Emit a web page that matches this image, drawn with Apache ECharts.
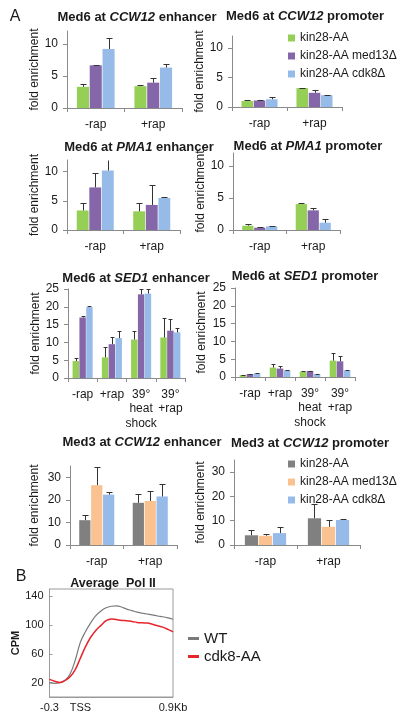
<!DOCTYPE html>
<html><head><meta charset="utf-8">
<script src="https://cdn.jsdelivr.net/npm/echarts@6/dist/echarts.min.js"></script>
<style>html,body{margin:0;padding:0;background:#fff}#c{width:400px;height:721px}</style>
</head><body><div id="c"></div>
<script>
// ---------- data ----------
const rapCats = ['-rap', '+rap'];
const sedCats = ['-rap', '+rap', '39°\nheat\nshock', '39°\n+rap'];
const strainNames = ['kin28-AA', 'kin28-AA med13Δ', 'kin28-AA cdk8Δ'];

// Med6 at CCW12 enhancer  (series order: kin28-AA, med13Δ, cdk8Δ)
const med6Ccw12EnhMean = [[3.3, 3.4], [6.65, 3.95], [9.2, 6.3]];
const med6Ccw12EnhErr  = [[0.45, 0.15], [0.05, 0.75], [1.7, 0.6]];
// Med6 at CCW12 promoter
const med6Ccw12ProMean = [[1.0, 3.2], [1.1, 2.4], [1.3, 2.0]];
const med6Ccw12ProErr  = [[0.1, 0.05], [0.15, 0.45], [0.45, 0.05]];
// Med6 at PMA1 enhancer
const med6Pma1EnhMean = [[3.35, 3.2], [7.3, 4.3], [10.2, 5.5]];
const med6Pma1EnhErr  = [[1.25, 1.4], [2.5, 3.4], [3.0, 0.15]];
// Med6 at PMA1 promoter
const med6Pma1ProMean = [[0.67, 4.04], [0.36, 3.06], [0.57, 1.14]];
const med6Pma1ProErr  = [[0.2, 0.15], [0.1, 0.36], [0.1, 0.62]];
// Med6 at SED1 enhancer
const med6Sed1EnhMean = [[4.75, 5.8, 10.8, 11.4], [17.0, 9.5, 23.5, 13.3], [19.9, 11.2, 23.7, 12.8]];
const med6Sed1EnhErr  = [[0.95, 2.8, 2.3, 5.4], [0.5, 2.0, 1.5, 3.4], [0.2, 1.9, 1.3, 1.2]];
// Med6 at SED1 promoter
const med6Sed1ProMean = [[0.57, 2.64, 1.5, 4.6], [0.85, 2.36, 1.7, 4.4], [1.04, 1.9, 0.85, 1.9]];
const med6Sed1ProErr  = [[0.05, 0.95, 0.1, 2.2], [0.1, 0.85, 0.1, 1.5], [0.15, 0.1, 0.05, 0.1]];
// Med3 at CCW12 enhancer
const med3Ccw12EnhMean = [[11.0, 18.7], [26.5, 19.5], [22.3, 21.5]];
const med3Ccw12EnhErr  = [[2.5, 4.1], [8.0, 4.3], [1.3, 5.6]];
// Med3 at CCW12 promoter
const med3Ccw12ProMean = [[4.0, 11.0], [3.8, 7.5], [4.9, 10.3]];
const med3Ccw12ProErr  = [[2.2, 5.7], [0.6, 2.6], [2.4, 0.5]];

// tick labels
const ticks12 = [0, 5, 10];
const ticks25 = [0, 5, 10, 15, 20, 25];
const ticks35 = [0, 10, 20, 30];

// B: Average Pol II (CPM) around TSS, kb
const polX     = [-0.3, -0.25, -0.2, -0.15, -0.1, -0.05, 0, 0.05, 0.1, 0.15, 0.2, 0.25, 0.3, 0.35, 0.4, 0.45, 0.5, 0.55, 0.6, 0.65, 0.7, 0.75, 0.8, 0.85, 0.9];
const polWT    = [19.5, 19, 20, 23, 32, 51, 76, 91, 103, 113, 119.5, 124, 126, 126.5, 125, 122, 120, 117.8, 116.5, 115.3, 114, 112.5, 111.5, 110, 108];
const polCdk8  = [24.5, 22, 20, 23, 28, 38, 54, 70, 83, 92.5, 99.5, 106, 108.5, 107.5, 106.3, 106, 105, 103.6, 103, 102.7, 101, 99, 97, 94, 90.5];
const polYTicks = [20, 60, 100, 140];
const polXTicks = [-0.3, 0, 0.9];

// ---------- styling ----------
const FONT = '"Liberation Sans", Arial, sans-serif';
const TXT = '#1a1a1a';
const AX = '#8a8a8a';
const med6Colors = ['#95cf55', '#8566a8', '#96bbe8'];
const med3Colors = ['#808080', '#fac291', '#96bbe8'];

const panels = [
  {t: ['Med6 at ', 'CCW12', ' enhancer'], tx: 137, ty: 17, g: {left: 67, top: 31, width: 115, height: 77}, cats: rapCats, mean: med6Ccw12EnhMean, err: med6Ccw12EnhErr, max: 12, ticks: ticks12, colors: med6Colors, gap: 26},
  {t: ['Med6 at ', 'CCW12', ' promoter'], tx: 305, ty: 16, g: {left: 232, top: 36, width: 110, height: 71}, cats: rapCats, mean: med6Ccw12ProMean, err: med6Ccw12ProErr, max: 12, ticks: ticks12, colors: med6Colors, gap: 25},
  {t: ['Med6 at ', 'PMA1', ' enhancer'], tx: 139, ty: 147, g: {left: 67, top: 160, width: 113, height: 70}, cats: rapCats, mean: med6Pma1EnhMean, err: med6Pma1EnhErr, max: 12, ticks: ticks12, colors: med6Colors, gap: 26},
  {t: ['Med6 at ', 'PMA1', ' promoter'], tx: 308, ty: 146, g: {left: 233, top: 153, width: 107, height: 77}, cats: rapCats, mean: med6Pma1ProMean, err: med6Pma1ProErr, max: 12, ticks: ticks12, colors: med6Colors, gap: 25},
  {t: ['Med6 at ', 'SED1', ' enhancer'], tx: 136, ty: 278, g: {left: 68, top: 289, width: 117, height: 89}, cats: sedCats, mean: med6Sed1EnhMean, err: med6Sed1EnhErr, max: 25, ticks: ticks25, colors: med6Colors, gap: 24},
  {t: ['Med6 at ', 'SED1', ' promoter'], tx: 305, ty: 276, g: {left: 235, top: 288, width: 120, height: 89}, cats: sedCats, mean: med6Sed1ProMean, err: med6Sed1ProErr, max: 25, ticks: ticks25, colors: med6Colors, gap: 27},
  {t: ['Med3 at ', 'CCW12', ' enhancer'], tx: 142, ty: 442, g: {left: 70, top: 466, width: 107, height: 79}, cats: rapCats, mean: med3Ccw12EnhMean, err: med3Ccw12EnhErr, max: 35, ticks: ticks35, colors: med3Colors, gap: 29},
  {t: ['Med3 at ', 'CCW12', ' promoter'], tx: 310, ty: 443, g: {left: 234, top: 460, width: 126, height: 85}, cats: rapCats, mean: med3Ccw12ProMean, err: med3Ccw12ProErr, max: 35, ticks: ticks35, colors: med3Colors, gap: 27}
];

function errRender(n, idx, pct, gapPct, ymax) {
  return function (params, api) {
    const c = api.value(0), m = api.value(1), e = api.value(2);
    const band = api.size([1, 0])[0];
    const bw = band * pct;
    const step = bw * (1 + gapPct);
    const off = (idx - (n - 1) / 2) * step;
    const base = api.coord([c, m]);
    let tv = m + e, clipped = false;
    if (tv > ymax + 0.05) { tv = ymax; clipped = true; }
    const top = api.coord([c, tv]);
    const x = Math.round(base[0] + off) + 0.5;
    const yt = Math.round(top[1]) + 0.5;
    const cap = Math.min(3, bw * 0.3);
    const st = {stroke: '#333', lineWidth: 1};
    const ch = [{type: 'line', shape: {x1: x, y1: base[1], x2: x, y2: yt}, style: st}];
    if (!clipped) ch.push({type: 'line', shape: {x1: x - cap, y1: yt, x2: x + cap, y2: yt}, style: st});
    return {type: 'group', children: ch};
  };
}

const grids = [], xAxes = [], yAxes = [], series = [], graphics = [];
panels.forEach((p, i) => {
  grids.push(Object.assign({}, p.g));
  const four = p.cats.length === 4;
  const pct = four ? 0.22 : 0.21;
  const gapPct = 0.06;
  xAxes.push({
    type: 'category', gridIndex: i, data: p.cats,
    axisLine: {lineStyle: {color: AX}},
    axisTick: {show: true, length: 4, lineStyle: {color: AX}},
    axisLabel: {color: TXT, fontSize: 12, fontFamily: FONT, margin: 9, lineHeight: 14.5, interval: 0}
  });
  yAxes.push({
    type: 'value', gridIndex: i, min: 0, max: p.max,
    name: 'fold enrichment', nameLocation: 'middle', nameRotate: 90, nameGap: p.gap,
    nameTextStyle: {color: TXT, fontSize: 12, fontFamily: FONT},
    axisLine: {show: true, lineStyle: {color: AX}},
    axisTick: {show: true, length: 4, lineStyle: {color: AX}, customValues: p.ticks},
    axisLabel: {color: TXT, fontSize: 12, fontFamily: FONT, margin: 9, customValues: p.ticks},
    splitLine: {show: false}
  });
  for (let s = 0; s < 3; s++) {
    series.push({
      type: 'bar', name: strainNames[s], xAxisIndex: i, yAxisIndex: i,
      data: p.mean[s], barWidth: (pct * 100) + '%', barGap: (gapPct * 100) + '%',
      itemStyle: {color: p.colors[s]}, silent: true, z: 2
    });
  }
  for (let s = 0; s < 3; s++) {
    series.push({
      type: 'custom', xAxisIndex: i, yAxisIndex: i, z: 5, silent: true,
      data: p.mean[s].map((m, k) => [k, m, p.err[s][k]]),
      encode: {x: 0, y: 1},
      renderItem: errRender(3, s, pct, gapPct, p.max)
    });
  }
  graphics.push({
    type: 'text', x: p.tx, y: p.ty,
    style: {
      text: '{b|' + p.t[0] + '}{i|' + p.t[1] + '}{b|' + p.t[2] + '}',
      align: 'center', verticalAlign: 'middle',
      rich: {
        b: {fontWeight: 'bold', fontSize: 13, fontFamily: FONT, fill: TXT, color: TXT},
        i: {fontWeight: 'bold', fontStyle: 'italic', fontSize: 13, fontFamily: FONT, fill: TXT, color: TXT}
      }
    }
  });
});

// Panel B
const bi = panels.length;
grids.push({left: 49.5, top: 589, width: 123.5, height: 108, show: true, borderColor: '#9a9a9a', borderWidth: 1});
xAxes.push({
  type: 'value', gridIndex: bi, min: -0.3, max: 0.9,
  axisLine: {show: true, onZero: false, lineStyle: {color: '#9a9a9a'}},
  axisTick: {show: false},
  splitLine: {show: false},
  axisLabel: {
    color: TXT, fontSize: 11, fontFamily: FONT, margin: 5, customValues: polXTicks,
    showMinLabel: true, showMaxLabel: true,
    formatter: v => Math.abs(v) < 1e-9 ? 'TSS' : (v > 0.5 ? '0.9Kb' : '-0.3')
  }
});
yAxes.push({
  type: 'value', gridIndex: bi, min: 0, max: 150,
  name: 'CPM', nameLocation: 'middle', nameRotate: 90, nameGap: 22,
  nameTextStyle: {color: TXT, fontSize: 11, fontWeight: 'bold', fontFamily: FONT},
  axisLine: {show: true, onZero: false, lineStyle: {color: '#9a9a9a'}},
  axisTick: {show: true, inside: true, length: 3, lineStyle: {color: '#9a9a9a'}, customValues: polYTicks},
  splitLine: {show: false},
  axisLabel: {color: TXT, fontSize: 11, fontFamily: FONT, margin: 6, customValues: polYTicks}
});
series.push({
  type: 'line', name: 'WT', xAxisIndex: bi, yAxisIndex: bi, smooth: 0.4, showSymbol: false,
  data: polX.map((x, k) => [x, polWT[k]]), lineStyle: {color: '#7a7a7a', width: 1.2}, itemStyle: {color: '#7a7a7a'}, silent: true
});
series.push({
  type: 'line', name: 'cdk8-AA', xAxisIndex: bi, yAxisIndex: bi, smooth: 0.4, showSymbol: false,
  data: polX.map((x, k) => [x, polCdk8[k]]), lineStyle: {color: '#e5242b', width: 1.5}, itemStyle: {color: '#e5242b'}, silent: true
});

graphics.push({type: 'text', x: 15, y: 17, style: {text: 'A', fontSize: 16, fontFamily: FONT, fill: TXT, align: 'center', verticalAlign: 'middle'}});
graphics.push({type: 'text', x: 21, y: 577, style: {text: 'B', fontSize: 16, fontFamily: FONT, fill: TXT, align: 'center', verticalAlign: 'middle'}});
graphics.push({type: 'text', x: 113, y: 584, style: {text: 'Average  Pol II', fontSize: 12.5, fontWeight: 'bold', fontFamily: FONT, fill: TXT, align: 'center', verticalAlign: 'middle'}});

const legendBase = {
  orient: 'vertical', icon: 'rect', itemWidth: 7, itemHeight: 7, itemGap: 6, selectedMode: false,
  textStyle: {color: TXT, fontSize: 12, fontFamily: FONT, lineHeight: 12}
};
const option = {
  backgroundColor: '#fff',
  animation: false,
  grid: grids, xAxis: xAxes, yAxis: yAxes, series: series, graphic: graphics,
  legend: [
    Object.assign({}, legendBase, {left: 283, top: 27, data: strainNames.map((n, k) => ({name: n, itemStyle: {color: med6Colors[k]}}))}),
    Object.assign({}, legendBase, {left: 283, top: 453, data: strainNames.map((n, k) => ({name: n, itemStyle: {color: med3Colors[k]}}))}),
    {orient: 'vertical', icon: 'rect', itemWidth: 11, itemHeight: 3, itemGap: 3, selectedMode: false, left: 183, top: 626,
     textStyle: {color: TXT, fontSize: 15, fontFamily: FONT, lineHeight: 15}, data: ['WT', 'cdk8-AA']}
  ]
};
const chart = echarts.init(document.getElementById('c'), null, {renderer: 'canvas'});
chart.setOption(option);
</script>
</body></html>
